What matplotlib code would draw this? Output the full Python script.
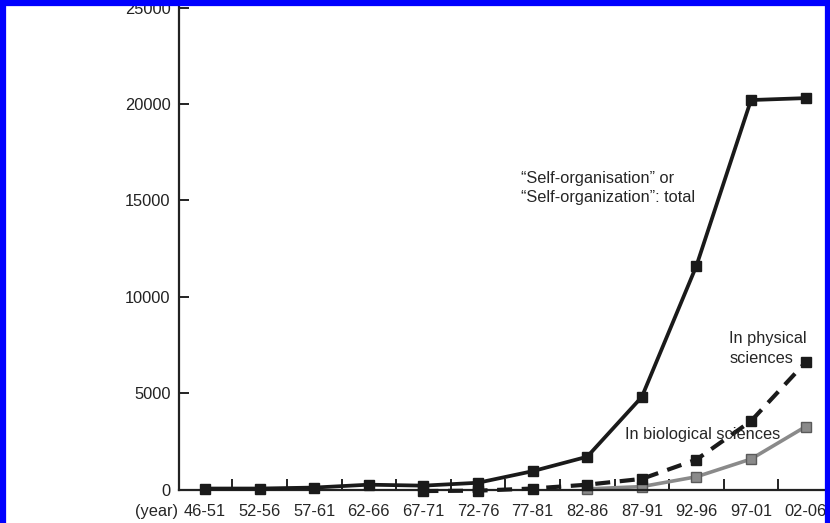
import matplotlib
matplotlib.use("Agg")
import matplotlib.pyplot as plt
from matplotlib.lines import Line2D

plt.rcParams['font.family'] = ['Liberation Sans', 'DejaVu Sans']

categories = ["46-51", "52-56", "57-61", "62-66", "67-71", "72-76",
              "77-81", "82-86", "87-91", "92-96", "97-01", "02-06"]
total = [50, 50, 100, 250, 200, 350, 950, 1700, 4800, 11600, 20200, 20300]
physical_idx = [4, 5, 6, 7, 8, 9, 10, 11]
physical = [-80, -60, 50, 250, 550, 1550, 3550, 6600]
bio_idx = [7, 8, 9, 10, 11]
bio = [30, 150, 660, 1580, 3260]
yticks = [0, 5000, 10000, 15000, 20000, 25000]

W, H = 830, 523
fig = plt.figure(figsize=(W / 100, H / 100), dpi=100)
x0, x1 = 179, 830
ybot, ytop = 489.5, 0
ax = fig.add_axes([x0 / W, 1 - ybot / H, (x1 - x0) / W, (ybot - ytop) / H])

step = 54.6
ax.set_xlim(-(205 - x0) / step, (x1 - 205) / step)
ax.set_ylim(0, 25000 + 7.5 / 96.4 * 5000)

FS = 11.8
TXT = "#262626"

ax.plot(range(len(total)), total, color="#1a1a1a", lw=2.7, marker="s",
        ms=7, mfc="#1a1a1a", mec="#1a1a1a", clip_on=False, zorder=4)
ax.plot(physical_idx, physical, color="#1a1a1a", lw=3.0, ls=(0, (3.6, 2.3)),
        marker="s", ms=7, mfc="#1a1a1a", mec="#1a1a1a", clip_on=False, zorder=3)
ax.plot(bio_idx, bio, color="#8a8a8a", lw=2.6, marker="s", ms=7,
        mfc="#8a8a8a", mec="#5a5a5a", clip_on=False, zorder=2)

for s in ["top", "right"]:
    ax.spines[s].set_visible(False)
for s in ["left", "bottom"]:
    ax.spines[s].set_linewidth(1.6)
    ax.spines[s].set_color("#222222")

ax.set_yticks(yticks)
ax.set_yticklabels([str(v) for v in yticks], fontsize=FS, color=TXT)
ax.tick_params(axis="y", direction="in", length=7, width=1.4, pad=6, colors="#222222")
ax.set_xticks([i + 0.5 for i in range(len(categories) - 1)])
ax.set_xticklabels([])
ax.tick_params(axis="x", direction="in", length=8, width=1.4, colors="#222222")

for i, c in enumerate(categories):
    ax.text(i, -0.045, c, transform=ax.get_xaxis_transform(), ha="center",
            va="center", fontsize=FS, color=TXT, clip_on=False)
ax.text(-0.5, -0.045, "(year)", transform=ax.get_xaxis_transform(), ha="right",
        va="center", fontsize=FS, color=TXT, clip_on=False)

ax.text(5.78, 15640, "\u201cSelf-organisation\u201d or\n\u201cSelf-organization\u201d: total",
        fontsize=FS, color=TXT, ha="left", va="center", linespacing=1.4)
ax.text(9.6, 7310, "In physical\nsciences", fontsize=FS, color=TXT,
        ha="left", va="center", linespacing=1.4)
ax.text(7.7, 2830, "In biological sciences", fontsize=FS, color=TXT,
        ha="left", va="center")

# blue frame
for (xa, ya) in [([2.5, 2.5], [0, H]), ([0, W], [H - 2.5, H - 2.5]), ([W - 2.5, W - 2.5], [0, H])]:
    fig.add_artist(Line2D([v / W for v in xa], [v / H for v in ya], color="#0000ff",
                          lw=4.5, transform=fig.transFigure))

fig.savefig("out.png", dpi=100)
